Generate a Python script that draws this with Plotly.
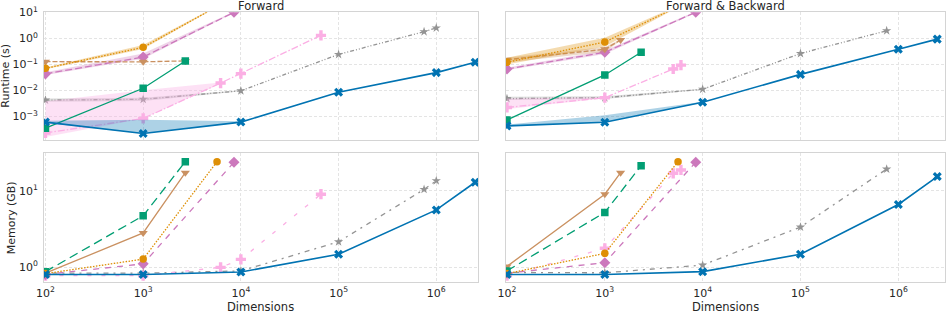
import plotly.graph_objects as go

# ---------------- data: Forward (left column) ----------------
F_BLUE_X = [100, 1000, 1e4, 1e5, 1e6, 2.5e6]
F_BLUE_RT = [6e-4, 2.2e-4, 6e-4, 8.5e-3, 0.048, 0.12]
F_BLUE_RT_LO = [5.6e-4, 2.2e-4, 5.8e-4]
F_BLUE_RT_HI = [6.8e-4, 7.4e-4, 6.4e-4]
F_BLUE_MEM = [0.80, 0.80, 0.86, 1.47, 5.6, 12.9]

F_ORANGE_X = [100, 1000, 5700]
F_ORANGE_RT = [0.07, 0.45, 16.6]
F_ORANGE_RT_LO = [0.064, 0.39, 16.0]
F_ORANGE_RT_HI = [0.076, 0.55, 17.5]
F_ORANGE_MEM = [0.82, 1.27, 24.0]

F_GREEN_X = [100, 1000, 2700]
F_GREEN_RT = [3.5e-4, 0.012, 0.135]
F_GREEN_MEM = [0.87, 4.7, 24.0]

F_BROWN_X = [100, 1000, 2700]
F_BROWN_RT = [0.126, 0.125, 0.135]
F_BROWN_MEM = [0.83, 2.8, 17.2]

F_PINK_X = [100, 1000, 8500]
F_PINK_RT = [0.043, 0.19, 10.0]
F_PINK_RT_LO = [0.039, 0.165, 9.6]
F_PINK_RT_HI = [0.050, 0.26, 10.6]
F_PINK_MEM = [0.80, 1.10, 23.6]

F_LPINK_X = [100, 1000, 6200, 1e4, 66000]
F_LPINK_RT = [2.3e-4, 8.3e-4, 0.019, 0.044, 1.3]
F_LPINK_RT_LO = [1.6e-4, 8.3e-4, 0.018]
F_LPINK_RT_HI = [3.8e-3, 0.010, 0.020]
F_LPINK_MEM = [0.77, 0.77, 0.99, 1.26, 9.0]

F_GRAY_X = [100, 1000, 1e4, 1e5, 7.5e5, 1e6]
F_GRAY_RT = [4.2e-3, 4.5e-3, 9.6e-3, 0.24, 1.8, 2.5]
F_GRAY_RT_LO = [3.6e-3, 3.9e-3, 9.2e-3]
F_GRAY_RT_HI = [4.9e-3, 5.2e-3, 1.0e-2]
F_GRAY_MEM = [0.83, 0.83, 0.89, 2.14, 10.4, 13.5]

# ---------------- data: Forward & Backward (right column) ----------------
B_BLUE_X = [100, 1000, 1e4, 1e5, 1e6, 2.5e6]
B_BLUE_RT = [4.3e-4, 5.9e-4, 3.5e-3, 0.041, 0.38, 0.93]
B_BLUE_RT_LO = [4.1e-4, 5.9e-4, 3.4e-3]
B_BLUE_RT_HI = [4.8e-4, 1.1e-3, 3.6e-3]
B_BLUE_MEM = [0.80, 0.80, 0.87, 1.47, 6.6, 15.3]

B_ORANGE_X = [100, 1000, 5600]
B_ORANGE_RT = [0.12, 0.72, 16.6]
B_ORANGE_RT_LO = [0.10, 0.48, 15.5]
B_ORANGE_RT_HI = [0.18, 1.05, 18.0]
B_ORANGE_MEM = [0.82, 1.51, 24.0]

B_GREEN_X = [100, 1000, 2350]
B_GREEN_RT = [7.3e-4, 0.039, 0.29]
B_GREEN_MEM = [0.89, 5.2, 21.3]

B_BROWN_X = [100, 1000, 1450]
B_BROWN_RT = [0.15, 0.38, 0.86]
B_BROWN_RT_LO = [0.12, 0.30, 0.80]
B_BROWN_RT_HI = [0.18, 0.46, 0.92]
B_BROWN_MEM = [1.02, 9.0, 17.2]

B_PINK_X = [100, 1000, 8500]
B_PINK_RT = [0.066, 0.29, 10.0]
B_PINK_RT_LO = [0.060, 0.25, 9.5]
B_PINK_RT_HI = [0.074, 0.34, 10.8]
B_PINK_MEM = [0.83, 1.14, 23.6]

B_LPINK_X = [100, 1000, 5000, 6000]
B_LPINK_RT = [2.2e-3, 5.2e-3, 0.066, 0.093]
B_LPINK_RT_LO = [1.9e-3, 5.0e-3]
B_LPINK_RT_HI = [4.8e-3, 5.4e-3]
B_LPINK_MEM = [0.77, 1.76, 16.9, 18.7]

B_GRAY_X = [100, 1000, 1e4, 1e5, 7.6e5]
B_GRAY_RT = [4.8e-3, 5.2e-3, 0.011, 0.26, 1.96]
B_GRAY_RT_LO = [4.2e-3, 4.6e-3, 0.0105]
B_GRAY_RT_HI = [5.6e-3, 5.9e-3, 0.0116]
B_GRAY_MEM = [0.85, 0.84, 1.06, 3.34, 19.2]

X_TICKS = [1e2, 1e3, 1e4, 1e5, 1e6]
X_TICKTEXT = ["10<sup>2</sup>", "10<sup>3</sup>", "10<sup>4</sup>", "10<sup>5</sup>", "10<sup>6</sup>"]
RT_TICKS = [1e-3, 1e-2, 1e-1, 1e0, 1e1]
RT_TICKTEXT = ["10<sup>−3</sup>", "10<sup>−2</sup>", "10<sup>−1</sup>", "10<sup>0</sup>", "10<sup>1</sup>"]
MEM_TICKS = [1e0, 1e1]
MEM_TICKTEXT = ["10<sup>0</sup>", "10<sup>1</sup>"]

TITLES = ["Forward", "Forward & Backward"]
Y_LABELS = ["Runtime (s)", "Memory (GB)"]
X_LABEL = "Dimensions"

# ---------------- styles ----------------
COL = {
    "blue": "#0173b2", "orange": "#de8f05", "green": "#029e73", "brown": "#ca9161",
    "pink": "#cc78bc", "lpink": "#fbafe4", "gray": "#949494",
}
RGBA = {
    "blue": "rgba(1,115,178,0.32)", "orange": "rgba(222,143,5,0.32)",
    "green": "rgba(2,158,115,0.32)", "brown": "rgba(202,145,97,0.32)",
    "pink": "rgba(204,120,188,0.32)", "lpink": "rgba(251,175,228,0.38)",
    "gray": "rgba(148,148,148,0.32)",
}
SYM = {"blue": "x", "orange": "circle", "green": "square", "brown": "triangle-down",
       "pink": "diamond", "lpink": "cross", "gray": "star"}
MSIZE = {"blue": 8, "orange": 7.5, "green": 7.5, "brown": 8, "pink": 8.5, "lpink": 8.5, "gray": 7}
DASH_TOP = {"blue": "solid", "orange": "1.5px,1.5px", "green": "solid", "brown": "5px,2px",
            "pink": "7px,3px", "lpink": "7px,2px,1.5px,2px", "gray": "4px,2px,1px,2px,1px,2px"}
DASH_BOT = {"blue": "solid", "orange": "1.5px,1.5px", "green": "9px,5px", "brown": "solid",
            "pink": "6px,6px", "lpink": "4px,10px", "gray": "2px,5px,5px,5px"}

fig = go.Figure()


def add_series(key, x, y, xa, ya, dash, lo=None, hi=None, width=1.3):
    if lo is not None:
        n = len(lo)
        fig.add_trace(go.Scatter(x=x[:n], y=hi, xaxis=xa, yaxis=ya, mode="lines",
                                 line=dict(width=0, color=RGBA[key]), showlegend=False,
                                 hoverinfo="skip"))
        fig.add_trace(go.Scatter(x=x[:n], y=lo, xaxis=xa, yaxis=ya, mode="lines",
                                 line=dict(width=0, color=RGBA[key]), fill="tonexty",
                                 fillcolor=RGBA[key], showlegend=False, hoverinfo="skip"))
    fig.add_trace(go.Scatter(
        x=x, y=y, xaxis=xa, yaxis=ya, mode="lines+markers", showlegend=False,
        line=dict(color=COL[key], width=1.6 if key == "blue" else width, dash=dash),
        marker=dict(symbol=SYM[key], size=MSIZE[key], color=COL[key], line=dict(width=0)),
    ))


# Top-left: Forward runtime
add_series("gray", F_GRAY_X, F_GRAY_RT, "x", "y", DASH_TOP["gray"], F_GRAY_RT_LO, F_GRAY_RT_HI)
add_series("lpink", F_LPINK_X, F_LPINK_RT, "x", "y", DASH_TOP["lpink"], F_LPINK_RT_LO, F_LPINK_RT_HI)
add_series("pink", F_PINK_X, F_PINK_RT, "x", "y", DASH_TOP["pink"], F_PINK_RT_LO, F_PINK_RT_HI)
add_series("brown", F_BROWN_X, F_BROWN_RT, "x", "y", DASH_TOP["brown"])
add_series("green", F_GREEN_X, F_GREEN_RT, "x", "y", DASH_TOP["green"])
add_series("orange", F_ORANGE_X, F_ORANGE_RT, "x", "y", DASH_TOP["orange"], F_ORANGE_RT_LO, F_ORANGE_RT_HI)
add_series("blue", F_BLUE_X, F_BLUE_RT, "x", "y", DASH_TOP["blue"], F_BLUE_RT_LO, F_BLUE_RT_HI)

# Top-right: Forward & Backward runtime
add_series("gray", B_GRAY_X, B_GRAY_RT, "x2", "y2", DASH_TOP["gray"], B_GRAY_RT_LO, B_GRAY_RT_HI)
add_series("lpink", B_LPINK_X, B_LPINK_RT, "x2", "y2", DASH_TOP["lpink"], B_LPINK_RT_LO, B_LPINK_RT_HI)
add_series("pink", B_PINK_X, B_PINK_RT, "x2", "y2", DASH_TOP["pink"], B_PINK_RT_LO, B_PINK_RT_HI)
add_series("brown", B_BROWN_X, B_BROWN_RT, "x2", "y2", DASH_TOP["brown"], B_BROWN_RT_LO, B_BROWN_RT_HI)
add_series("green", B_GREEN_X, B_GREEN_RT, "x2", "y2", DASH_TOP["green"])
add_series("orange", B_ORANGE_X, B_ORANGE_RT, "x2", "y2", DASH_TOP["orange"], B_ORANGE_RT_LO, B_ORANGE_RT_HI)
add_series("blue", B_BLUE_X, B_BLUE_RT, "x2", "y2", DASH_TOP["blue"], B_BLUE_RT_LO, B_BLUE_RT_HI)

# Bottom-left: Forward memory
add_series("gray", F_GRAY_X, F_GRAY_MEM, "x3", "y3", DASH_BOT["gray"])
add_series("lpink", F_LPINK_X, F_LPINK_MEM, "x3", "y3", DASH_BOT["lpink"])
add_series("pink", F_PINK_X, F_PINK_MEM, "x3", "y3", DASH_BOT["pink"])
add_series("brown", F_BROWN_X, F_BROWN_MEM, "x3", "y3", DASH_BOT["brown"])
add_series("green", F_GREEN_X, F_GREEN_MEM, "x3", "y3", DASH_BOT["green"])
add_series("orange", F_ORANGE_X, F_ORANGE_MEM, "x3", "y3", DASH_BOT["orange"])
add_series("blue", F_BLUE_X, F_BLUE_MEM, "x3", "y3", DASH_BOT["blue"])

# Bottom-right: Forward & Backward memory
add_series("gray", B_GRAY_X, B_GRAY_MEM, "x4", "y4", DASH_BOT["gray"])
add_series("lpink", B_LPINK_X, B_LPINK_MEM, "x4", "y4", DASH_BOT["lpink"])
add_series("pink", B_PINK_X, B_PINK_MEM, "x4", "y4", DASH_BOT["pink"])
add_series("brown", B_BROWN_X, B_BROWN_MEM, "x4", "y4", DASH_BOT["brown"])
add_series("green", B_GREEN_X, B_GREEN_MEM, "x4", "y4", DASH_BOT["green"])
add_series("orange", B_ORANGE_X, B_ORANGE_MEM, "x4", "y4", DASH_BOT["orange"])
add_series("blue", B_BLUE_X, B_BLUE_MEM, "x4", "y4", DASH_BOT["blue"])

W, H = 946, 313
XL = [44 / W, 478 / W]
XR = [506 / W, 945 / W]
YT = [(H - 140) / H, (H - 12.3) / H]
YB = [(H - 282.3) / H, (H - 153.3) / H]

TICKFONT = dict(family="DejaVu Sans", size=11, color="#262626")
FRAME = "#d4d4d4"
GRID = "#e4e4e4"


def xaxis(domain, rng, anchor, labels):
    return dict(type="log", domain=domain, range=rng, anchor=anchor,
                tickmode="array", tickvals=X_TICKS, ticktext=X_TICKTEXT,
                showticklabels=labels, tickfont=TICKFONT, ticks="",
                showgrid=True, gridcolor=GRID, griddash="3px,2px", gridwidth=0.8,
                showline=True, linecolor=FRAME, linewidth=1, mirror=True,
                zeroline=False, automargin=False)


def yaxis(domain, rng, anchor, tv, tt, labels):
    return dict(type="log", domain=domain, range=rng, anchor=anchor,
                tickmode="array", tickvals=tv, ticktext=tt,
                showticklabels=labels, tickfont=TICKFONT, ticks="",
                ticklabelstandoff=3,
                showgrid=True, gridcolor=GRID, griddash="3px,2px", gridwidth=0.8,
                showline=True, linecolor=FRAME, linewidth=1, mirror=True,
                zeroline=False, automargin=False)


XRNG_L = [1.985, 6.427]
XRNG_R = [1.99, 6.477]
YRNG_T = [-3.91, 1.0]
YRNG_B = [-0.2, 1.49]

fig.update_layout(
    width=W, height=H, margin=dict(l=0, r=0, t=0, b=0),
    paper_bgcolor="white", plot_bgcolor="white", showlegend=False,
    font=dict(family="DejaVu Sans", size=11, color="#262626"),
    xaxis=xaxis(XL, XRNG_L, "y", False),
    yaxis=yaxis(YT, YRNG_T, "x", RT_TICKS, RT_TICKTEXT, True),
    xaxis2=xaxis(XR, XRNG_R, "y2", False),
    yaxis2=yaxis(YT, YRNG_T, "x2", RT_TICKS, RT_TICKTEXT, False),
    xaxis3=xaxis(XL, XRNG_L, "y3", True),
    yaxis3=yaxis(YB, YRNG_B, "x3", MEM_TICKS, MEM_TICKTEXT, True),
    xaxis4=xaxis(XR, XRNG_R, "y4", True),
    yaxis4=yaxis(YB, YRNG_B, "x4", MEM_TICKS, MEM_TICKTEXT, False),
)

ann = []
for i, t in enumerate(TITLES):
    dom = XL if i == 0 else XR
    ann.append(dict(text=t, x=(dom[0] + dom[1]) / 2, y=1 - 6 / H, xref="paper", yref="paper",
                    xanchor="center", yanchor="middle", showarrow=False,
                    font=dict(family="DejaVu Sans", size=11.5, color="#262626")))
    ann.append(dict(text=X_LABEL, x=(dom[0] + dom[1]) / 2, y=1 - 306.5 / H, xref="paper", yref="paper",
                    xanchor="center", yanchor="middle", showarrow=False,
                    font=dict(family="DejaVu Sans", size=11.5, color="#262626")))
ann.append(dict(text=Y_LABELS[0], x=5.5 / W, y=(YT[0] + YT[1]) / 2, xref="paper", yref="paper",
                xanchor="center", yanchor="middle", textangle=-90, showarrow=False,
                font=dict(family="DejaVu Sans", size=11, color="#262626")))
ann.append(dict(text=Y_LABELS[1], x=11.5 / W, y=(YB[0] + YB[1]) / 2, xref="paper", yref="paper",
                xanchor="center", yanchor="middle", textangle=-90, showarrow=False,
                font=dict(family="DejaVu Sans", size=11, color="#262626")))
fig.update_layout(annotations=ann)

fig.write_html("out.html", config={"displayModeBar": False},
               post_script="document.body.style.margin='0';document.body.style.overflow='hidden';")
